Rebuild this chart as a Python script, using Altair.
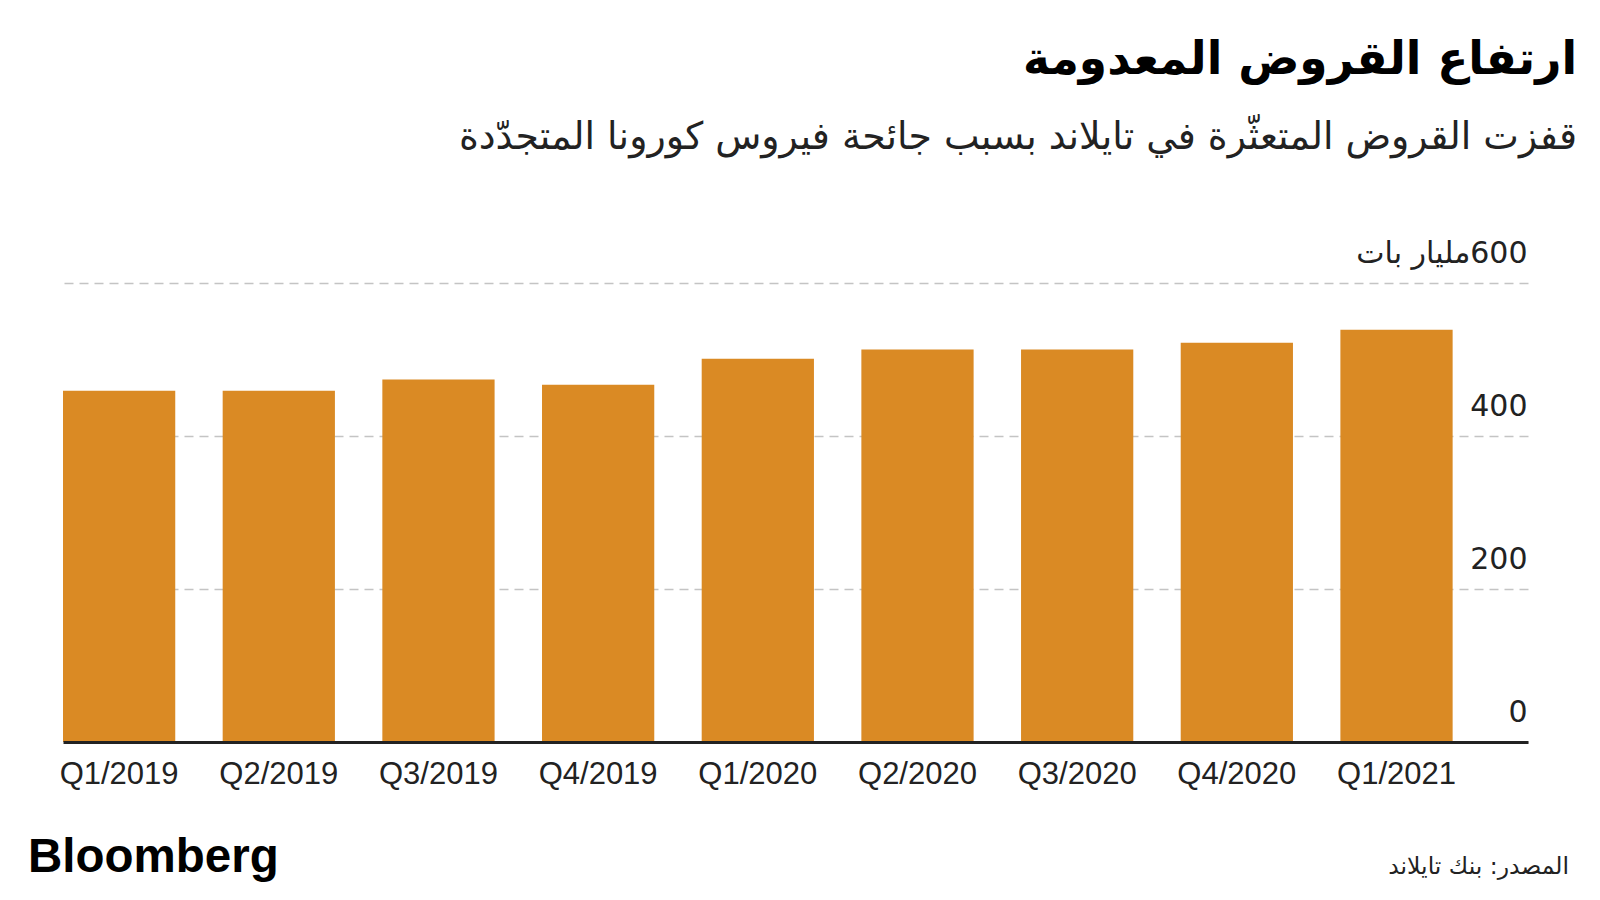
import altair as alt
import pandas as pd

quarters = ["Q1/2019", "Q2/2019", "Q3/2019", "Q4/2019", "Q1/2020",
            "Q2/2020", "Q3/2020", "Q4/2020", "Q1/2021"]
bad_loans = [459, 459, 474, 467, 501, 513, 513, 522, 539]
y_ticks = [0, 200, 400, 600]

title_text = "ارتفاع القروض المعدومة"
subtitle_text = "قفزت القروض المتعثّرة في تايلاند بسبب جائحة فيروس كورونا المتجدّدة"
unit_label = "\u200f600مليار بات"
source_text = "المصدر: بنك تايلاند"
logo_text = "Bloomberg"

df = pd.DataFrame({"quarter": quarters, "value": bad_loans})

W, H = 1465, 459
BAR_COLOR = "#DA8A24"
ARABIC_FONT = "DejaVu Sans"
LATIN_FONT = "Liberation Sans"

bars = alt.Chart(df).mark_bar(color=BAR_COLOR).encode(
    x=alt.X("quarter:N", sort=quarters,
            scale=alt.Scale(paddingInner=0.297, paddingOuter=0.236, align=0),
            axis=alt.Axis(title=None, labelAngle=0, ticks=False,
                          labelFont=LATIN_FONT, labelFontSize=31,
                          labelColor="#222222", labelPadding=17,
                          domainColor="#222222", domainWidth=3,
                          zindex=1)),
    y=alt.Y("value:Q",
            scale=alt.Scale(domain=[0, 600], nice=False),
            axis=alt.Axis(title=None, orient="right", values=y_ticks,
                          ticks=False, tickSize=0, domain=False,
                          labelAlign="right", labelPadding=-1,
                          labelBaseline="alphabetic", labelOffset=-21,
                          labelFont="DejaVu Sans", labelFontSize=30,
                          labelColor="#222222",
                          labelExpr=f"datum.value == 600 ? '{unit_label}' : datum.label",
                          grid=True, gridColor="#c4c4c4", gridDash=[9, 6],
                          gridWidth=1.5)),
)

logo = alt.Chart(pd.DataFrame({"t": [logo_text]})).mark_text(
    font=LATIN_FONT, fontSize=47.5, fontWeight="bold", align="left",
    baseline="alphabetic", color="#000000",
).encode(x=alt.value(-35), y=alt.value(H + 130), text="t:N")

source = alt.Chart(pd.DataFrame({"t": [source_text]})).mark_text(
    font=ARABIC_FONT, fontSize=23.5, align="right", baseline="alphabetic",
    color="#222222",
).encode(x=alt.value(W + 41), y=alt.value(H + 132), text="t:N")

chart = alt.layer(bars, logo, source).properties(
    width=W, height=H,
    padding={"left": 55, "top": 275, "right": 60, "bottom": 140},
    autosize=alt.AutoSizeParams(type="none"),
    title=alt.TitleParams(
        text=title_text, subtitle=subtitle_text,
        anchor="end", align="right", frame="group", dx=49, offset=81,
        font=ARABIC_FONT, fontSize=45.5, fontWeight="bold", color="#000000",
        subtitleFont=ARABIC_FONT, subtitleFontSize=37.8,
        subtitleColor="#222222", subtitlePadding=36,
    ),
).configure_view(stroke=None)

chart.save("out.html", embed_options={"renderer": "svg", "actions": False})
